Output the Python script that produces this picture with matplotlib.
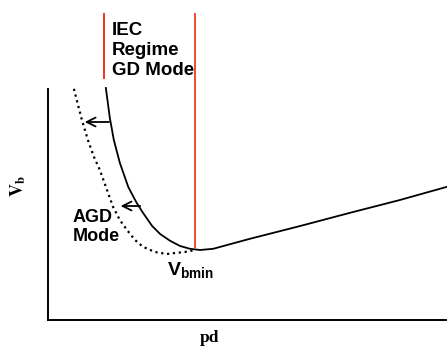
import matplotlib.pyplot as plt

plt.rcParams['font.family'] = ['Liberation Sans', 'DejaVu Sans']
plt.rcParams['mathtext.fontset'] = 'custom'
plt.rcParams['mathtext.rm'] = 'Liberation Sans'
plt.rcParams['mathtext.bf'] = 'Liberation Sans:bold'

# Paschen curve, glow discharge (solid)
gd_pd = [1.45, 1.55, 1.65, 1.80, 2.01, 2.21, 2.38, 2.61, 2.81, 3.06, 3.31, 3.56,
         3.81, 4.14, 5.06, 6.32, 7.57, 8.82, 10.0]
gd_vb = [5.80, 5.05, 4.50, 3.93, 3.33, 2.95, 2.68, 2.35, 2.15, 1.98, 1.85, 1.78,
         1.75, 1.78, 2.03, 2.35, 2.68, 3.00, 3.33]

# shifted curve, AGD mode (dotted)
agd_pd = [0.65, 0.75, 0.85, 1.00, 1.15, 1.30, 1.45, 1.63, 1.80, 1.98, 2.18, 2.38,
          2.68, 2.98, 3.23, 3.43, 3.68]
agd_vb = [5.78, 5.38, 5.00, 4.50, 4.08, 3.75, 3.33, 2.83, 2.50, 2.25, 2.00, 1.83,
          1.70, 1.65, 1.68, 1.70, 1.75]

# regime markers (red)
iec_left = 1.40
iec_right = 3.68
marker_top = 7.65
left_bottom = 6.05
right_bottom = 1.83

# shift arrows: (y, from x, to x)
arrows = [(4.95, 1.60, 0.85), (2.85, 2.38, 1.75)]

fig = plt.figure(figsize=(4.47, 3.5), dpi=100)
ax = fig.add_axes([48 / 447, 30 / 350, 399 / 447, 320 / 350])
ax.set_xlim(0, 10)
ax.set_ylim(0, 8)

ax.plot(gd_pd, gd_vb, color='black', lw=1.3)
ax.plot(agd_pd, agd_vb, color='black', lw=1.6, linestyle=':')

ax.plot([iec_left, iec_left], [left_bottom, marker_top], color='#ee3322', lw=1.4)
ax.plot([iec_right, iec_right], [right_bottom, marker_top], color='#f24a30', lw=1.4)

for y, x0, x1 in arrows:
    ax.annotate('', xy=(x1, y), xytext=(x0, y),
                arrowprops=dict(arrowstyle='->', color='black', lw=1.3,
                                mutation_scale=16))

ax.text(1.60, 7.44, 'IEC\nRegime\nGD Mode', fontsize=13.5, fontweight='bold',
        va='top', ha='left', linespacing=1.2)
ax.text(0.62, 2.78, 'AGD\nMode', fontsize=13, fontweight='bold', va='top', ha='left',
        linespacing=1.2)
ax.text(2.98, 1.50, r'$\mathbf{V_{bmin}}$', fontsize=14, va='top', ha='left')

# axes: only left and bottom, no ticks
ax.spines['top'].set_visible(False)
ax.spines['right'].set_visible(False)
ax.spines['left'].set_bounds(0, 5.78)
ax.spines['left'].set_linewidth(1.4)
ax.spines['bottom'].set_linewidth(1.4)
ax.set_xticks([])
ax.set_yticks([])

fig.text(18 / 447, 1 - 186 / 350, r'$\mathbf{V_b}$', rotation=90, ha='center', va='center',
         fontsize=13, math_fontfamily='stix')
fig.text(209 / 447, 1 - 338 / 350, 'pd', ha='center', va='center', fontsize=12.5,
         family='Liberation Serif', fontweight='bold')

fig.savefig('out.png', dpi=100)
